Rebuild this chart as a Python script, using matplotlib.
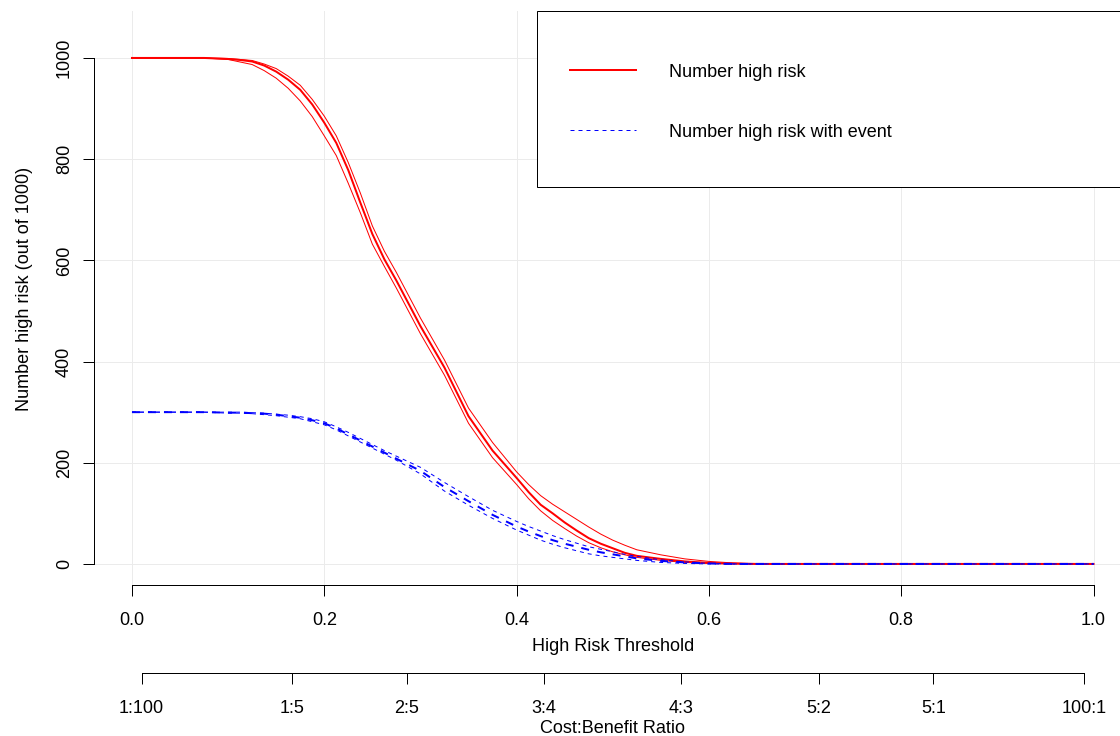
"""
Clinical impact curve: number high risk vs threshold, with cost:benefit axis.
"""

import numpy as np
import matplotlib
matplotlib.use("Agg")
import matplotlib.pyplot as plt
from matplotlib.patches import Rectangle

plt.rcParams["font.family"] = ["Liberation Sans", "DejaVu Sans"]
plt.rcParams["font.size"] = 13

# thresholds the curves were read at
thresholds = [0.0, 0.025, 0.05, 0.075, 0.1,
              0.1125, 0.125, 0.1375, 0.15, 0.1625, 0.175, 0.1875, 0.2,
              0.2125, 0.225, 0.2375, 0.25, 0.2625, 0.275,
              0.3, 0.325, 0.35, 0.375, 0.4,
              0.4125, 0.425, 0.4375, 0.45, 0.4625, 0.475, 0.4875, 0.5, 0.5125, 0.525,
              0.55, 0.575, 0.6, 0.625, 0.65,
              0.7, 0.75, 0.8, 0.85, 0.9, 0.95, 1.0]

# Number high risk (out of 1000) + CI
high_risk = [1000, 1000, 1000, 1000, 998,
             996, 993, 985, 973, 957, 937, 908, 872,
             832, 778, 714, 652, 602, 560,
             470, 388, 292, 224, 170,
             142, 117, 100, 82, 66, 51, 40, 31, 22, 16,
             10, 5, 2, 1, 0,
             0, 0, 0, 0, 0, 0, 0]
high_risk_lo = [1000, 1000, 1000, 1000, 997,
                992, 987, 975, 960, 940, 915, 884, 846,
                807, 752, 694, 632, 588, 545,
                455, 373, 278, 210, 157,
                129, 105, 86, 70, 55, 42, 32, 24, 18, 13,
                7, 3, 1, 0, 0,
                0, 0, 0, 0, 0, 0, 0]
high_risk_hi = [1000, 1000, 1000, 1000, 999,
                997, 995, 988, 979, 964, 946, 918, 885,
                846, 793, 733, 668, 618, 576,
                486, 403, 308, 240, 182,
                157, 135, 118, 103, 88, 73, 59, 47, 37, 28,
                18, 10, 5, 2, 0,
                0, 0, 0, 0, 0, 0, 0]

# Number high risk with event + CI
with_event = [300, 300, 300, 300, 299,
              299, 298, 297, 295, 292, 289, 284, 278,
              268, 256, 244, 232, 220, 208,
              184, 152, 124, 97, 74,
              64, 55, 47, 40, 34, 28, 23, 19, 15, 11,
              6, 3, 1, 0, 0,
              0, 0, 0, 0, 0, 0, 0]
with_event_lo = [300, 300, 300, 300, 298,
                 298, 297, 295, 293, 290, 287, 281, 275,
                 265, 253, 241, 229, 217, 205,
                 178, 144, 116, 90, 67,
                 57, 47, 39, 32, 26, 20, 16, 13, 10, 7,
                 3, 1, 0, 0, 0,
                 0, 0, 0, 0, 0, 0, 0]
with_event_hi = [300, 300, 300, 300, 300,
                 300, 299, 298, 296, 294, 291, 287, 281,
                 271, 260, 248, 236, 224, 213,
                 191, 161, 133, 106, 84,
                 74, 65, 56, 48, 41, 34, 29, 24, 19, 15,
                 8, 4, 1, 0, 0,
                 0, 0, 0, 0, 0, 0, 0]

x_ticks = [0.0, 0.2, 0.4, 0.6, 0.8, 1.0]
y_ticks = [0, 200, 400, 600, 800, 1000]
cost_benefit = ["1:100", "1:5", "2:5", "3:4", "4:3", "5:2", "5:1", "100:1"]
legend_labels = ["Number high risk", "Number high risk with event"]

PX = 0.72  # one pixel in points at dpi=100
GRID = "#EBEBEB"
DASH = (0, (4, 4))

fig = plt.figure(figsize=(11.2, 7.36), dpi=100)
ax = fig.add_axes([0.0835, 0.2049, 0.9272, 0.7796])
ax.set_xlim(-0.04, 1.04)
ax.set_ylim(-42, 1092)

ax.set_xticks(x_ticks)
ax.set_xticklabels([f"{v:.1f}" for v in x_ticks])
ax.set_yticks(y_ticks)
ax.grid(True, color=GRID, linewidth=PX)
ax.set_axisbelow(True)

# red: number high risk
ax.plot(thresholds, high_risk, color="red", lw=2 * PX)
ax.plot(thresholds, high_risk_lo, color="red", lw=PX)
ax.plot(thresholds, high_risk_hi, color="red", lw=PX)
# blue dashed: with event
ax.plot(thresholds, with_event, color="blue", lw=2 * PX, ls=DASH)
ax.plot(thresholds, with_event_lo, color="blue", lw=PX, ls=DASH)
ax.plot(thresholds, with_event_hi, color="blue", lw=PX, ls=DASH)

# R-style axes
for s in ["top", "right"]:
    ax.spines[s].set_visible(False)
ax.spines["left"].set_bounds(0, 1000)
ax.spines["bottom"].set_bounds(0, 1)
ax.spines["left"].set_linewidth(PX)
ax.spines["bottom"].set_linewidth(PX)
ax.tick_params(axis="both", length=11 * PX, width=PX, color="black")
ax.tick_params(axis="x", pad=11.7)
ax.tick_params(axis="y", pad=13)
for lab in ax.get_yticklabels():
    lab.set_rotation(90)
    lab.set_ha("center")
    lab.set_va("center")

ax.set_xlabel("High Risk Threshold")
ax.xaxis.set_label_coords(0.5, -0.092)
ax.xaxis.label.set_va("top")
ax.set_ylabel("Number high risk (out of 1000)")
ax.yaxis.set_label_coords(-0.0578, 0.517)

# cost:benefit axis underneath
ratio_pos = []
for r in cost_benefit:
    a, b = (float(v) for v in r.split(":"))
    ratio_pos.append(a / (a + b))
sec = ax.secondary_xaxis(-0.1525)
sec.set_xticks(ratio_pos)
sec.set_xticklabels(cost_benefit)
sec.spines["bottom"].set_bounds(ratio_pos[0], ratio_pos[-1])
sec.spines["bottom"].set_linewidth(PX)
sec.tick_params(axis="x", length=11 * PX, width=PX, pad=11.5)
ax.text(0.5, -0.2345, "Cost:Benefit Ratio", transform=ax.transAxes,
        ha="center", va="top")

# legend box, R style (runs off the right edge)
ax.add_patch(Rectangle((0.4275, 0.6945), 0.6, 0.3055, transform=ax.transAxes,
                       facecolor="white", edgecolor="black", lw=PX,
                       clip_on=False, zorder=5))
ax.plot([0.4584, 0.5228], [0.8979, 0.8979], transform=ax.transAxes,
        color="red", lw=2 * PX, zorder=6)
ax.plot([0.4584, 0.5228], [0.7934, 0.7934], transform=ax.transAxes,
        color="blue", lw=PX, ls=DASH, zorder=6)
ax.text(0.5542, 0.8862, legend_labels[0], transform=ax.transAxes,
        va="baseline", zorder=6)
ax.text(0.5542, 0.7815, legend_labels[1], transform=ax.transAxes,
        va="baseline", zorder=6)

fig.savefig("out.png", dpi=100)
